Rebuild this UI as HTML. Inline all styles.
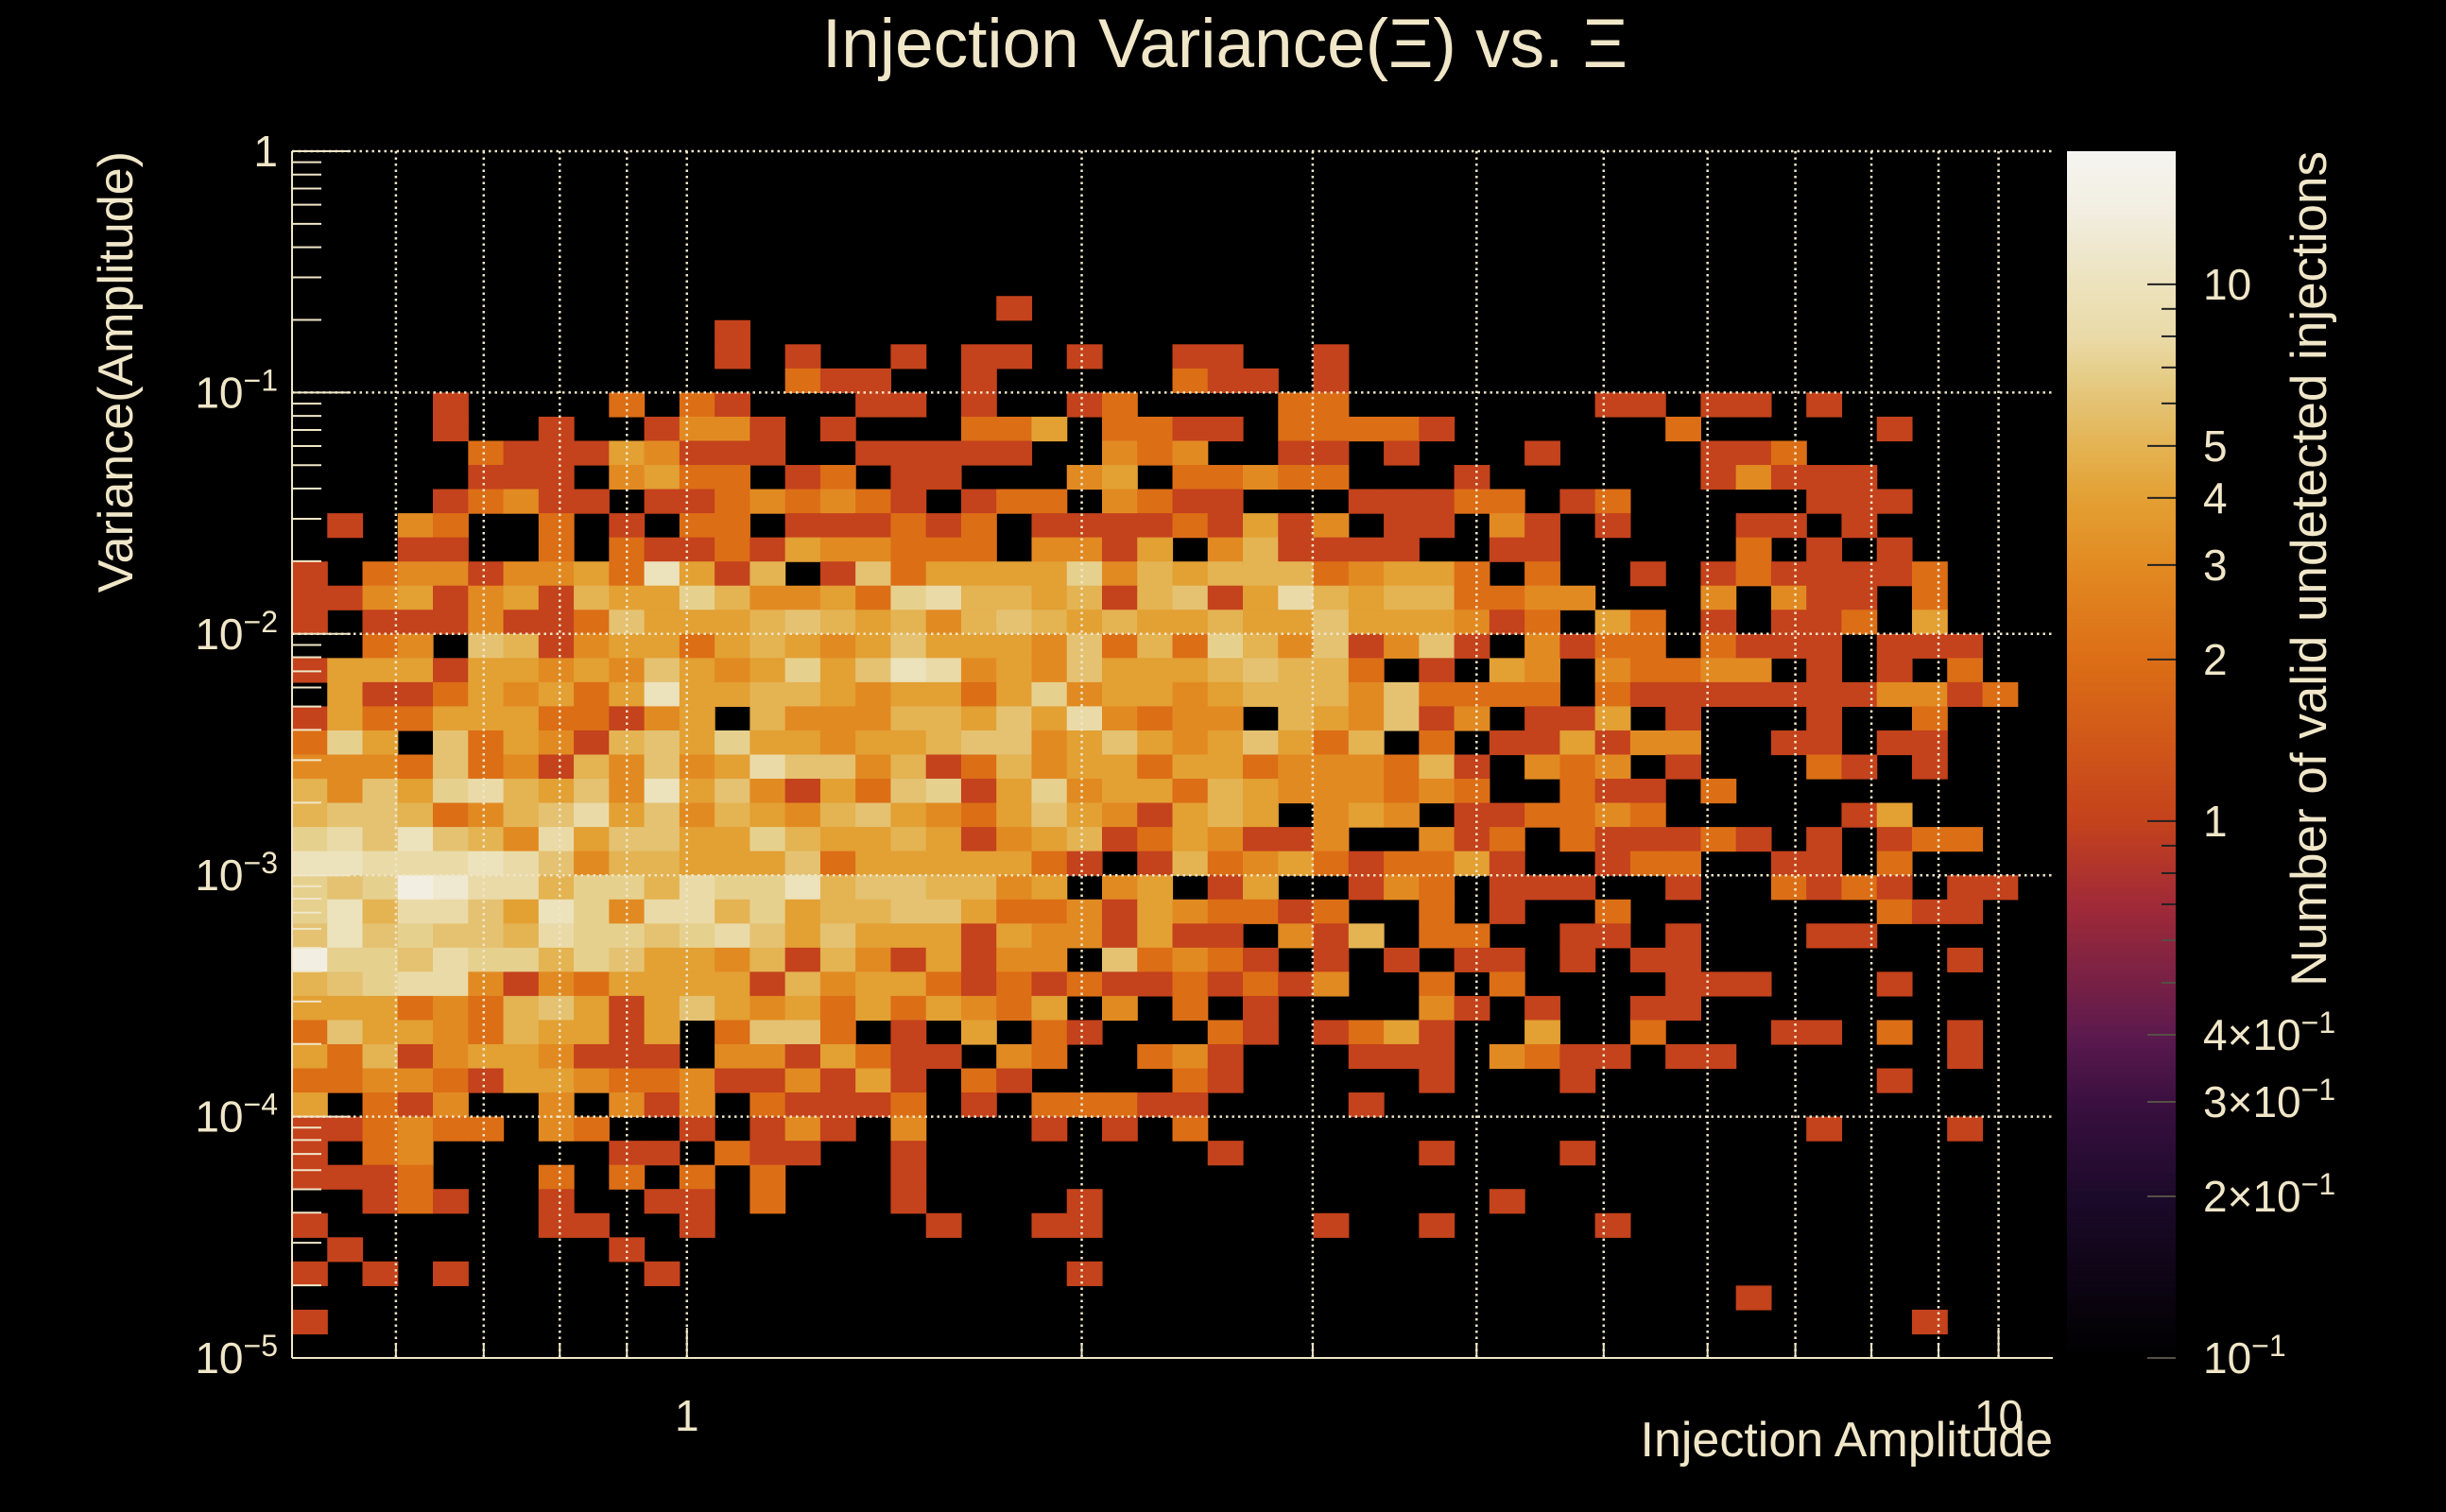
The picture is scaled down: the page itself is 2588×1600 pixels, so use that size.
<!DOCTYPE html>
<html><head><meta charset="utf-8"><title>Injection Variance vs Xi</title>
<style>
html,body{margin:0;padding:0;background:#000;}
svg{display:block;}
text{font-family:"Liberation Sans",sans-serif;fill:#f0e6c8;}
</style></head>
<body>
<svg id="chart" width="2588" height="1600" viewBox="0 0 2588 1600" xmlns="http://www.w3.org/2000/svg">
<rect x="0" y="0" width="2588" height="1600" fill="#000"/>
<text x="1296" y="71" font-size="73" text-anchor="middle">Injection Variance(Ξ) vs. Ξ</text>
<g id="cells"></g>
<g id="grid"></g>
<g id="axes"></g>
<g id="cbar"></g>
<text x="2172" y="1541" font-size="52" text-anchor="end">Injection Amplitude</text>
<text transform="translate(140,160) rotate(-90)" font-size="52" text-anchor="end">Variance(Amplitude)</text>
<text transform="translate(2461,160) rotate(-90)" font-size="53" text-anchor="end">Number of valid undetected injections</text>
</svg>
<script>
// ---- data ----
const xRange = [0.5, 11];
const yRange = [1e-5, 1];
const zRange = [0.1, 17.7];
const nX = 50;
const nY = 50;
const xTickValues = [1, 10];
const xTickLabels = ["1", "10"];
const yTickExps = [0, -1, -2, -3, -4, -5];
const zTickValues = [0.1, 0.2, 0.3, 0.4, 1, 2, 3, 4, 5, 10];
const zTickLabels = ["10^-1", "2×10^-1", "3×10^-1", "4×10^-1", "1", "2", "3", "4", "5", "10"];
// counts[row][col], row 0 = top (largest variance), col 0 = smallest amplitude
const counts = [
[0,0,0,0,0,0,0,0,0,0, 0,0,0,0,0,0,0,0,0,0, 0,0,0,0,0,0,0,0,0,0, 0,0,0,0,0,0,0,0,0,0, 0,0,0,0,0,0,0,0,0,0],
[0,0,0,0,0,0,0,0,0,0, 0,0,0,0,0,0,0,0,0,0, 0,0,0,0,0,0,0,0,0,0, 0,0,0,0,0,0,0,0,0,0, 0,0,0,0,0,0,0,0,0,0],
[0,0,0,0,0,0,0,0,0,0, 0,0,0,0,0,0,0,0,0,0, 0,0,0,0,0,0,0,0,0,0, 0,0,0,0,0,0,0,0,0,0, 0,0,0,0,0,0,0,0,0,0],
[0,0,0,0,0,0,0,0,0,0, 0,0,0,0,0,0,0,0,0,0, 0,0,0,0,0,0,0,0,0,0, 0,0,0,0,0,0,0,0,0,0, 0,0,0,0,0,0,0,0,0,0],
[0,0,0,0,0,0,0,0,0,0, 0,0,0,0,0,0,0,0,0,0, 0,0,0,0,0,0,0,0,0,0, 0,0,0,0,0,0,0,0,0,0, 0,0,0,0,0,0,0,0,0,0],
[0,0,0,0,0,0,0,0,0,0, 0,0,0,0,0,0,0,0,0,0, 0,0,0,0,0,0,0,0,0,0, 0,0,0,0,0,0,0,0,0,0, 0,0,0,0,0,0,0,0,0,0],
[0,0,0,0,0,0,0,0,0,0, 0,0,0,0,0,0,0,0,0,0, 1,0,0,0,0,0,0,0,0,0, 0,0,0,0,0,0,0,0,0,0, 0,0,0,0,0,0,0,0,0,0],
[0,0,0,0,0,0,0,0,0,0, 0,0,1,0,0,0,0,0,0,0, 0,0,0,0,0,0,0,0,0,0, 0,0,0,0,0,0,0,0,0,0, 0,0,0,0,0,0,0,0,0,0],
[0,0,0,0,0,0,0,0,0,0, 0,0,1,0,1,0,0,1,0,1, 1,0,1,0,0,1,1,0,0,1, 0,0,0,0,0,0,0,0,0,0, 0,0,0,0,0,0,0,0,0,0],
[0,0,0,0,0,0,0,0,0,0, 0,0,0,0,2,1,1,0,0,1, 0,0,0,0,0,2,1,1,0,1, 0,0,0,0,0,0,0,0,0,0, 0,0,0,0,0,0,0,0,0,0],
[0,0,0,0,1,0,0,0,0,2, 0,2,1,0,0,0,1,1,0,1, 0,0,1,2,0,0,0,0,2,2, 0,0,0,0,0,0,0,1,1,0, 1,1,0,1,0,0,0,0,0,0],
[0,0,0,0,1,0,0,1,0,0, 1,3,3,1,0,1,0,0,0,2, 2,4,0,2,2,1,1,0,2,2, 2,2,1,0,0,0,0,0,0,2, 0,0,0,0,0,1,0,0,0,0],
[0,0,0,0,0,2,1,1,1,4, 3,1,1,1,0,0,1,1,1,1, 1,0,0,3,2,3,0,0,1,1, 0,1,0,0,0,1,0,0,0,0, 1,1,2,0,0,0,0,0,0,0],
[0,0,0,0,0,1,1,1,0,3, 4,2,2,0,1,2,0,1,1,0, 0,0,3,4,0,2,2,3,2,2, 0,0,0,1,0,0,0,0,0,0, 1,3,1,1,1,0,0,0,0,0],
[0,0,0,0,1,2,3,1,1,0, 1,1,2,3,2,3,2,1,0,1, 2,2,0,3,2,1,1,0,0,0, 1,1,1,2,2,0,1,2,0,0, 0,0,0,1,1,1,0,0,0,0],
[0,1,0,3,2,0,0,2,0,1, 0,2,2,0,1,1,1,2,1,2, 0,1,1,1,1,2,1,4,1,3, 0,1,1,0,3,1,0,1,0,0, 0,1,1,0,1,0,0,0,0,0],
[0,0,0,1,1,0,0,2,0,2, 1,1,2,1,4,3,3,2,2,2, 0,3,3,1,4,0,3,5,1,1, 1,1,0,0,1,1,0,0,0,0, 0,2,0,1,0,1,0,0,0,0],
[1,0,2,3,3,1,3,3,4,2,10,4,1,5,0,1,6, 2,4,4,4,4,7,3,5,4,5,5,5,2,3,4,4,2, 0,2,0,0,1,0,1,2,1,1,1,1,2,0,0,0],
[1,1,3,4,1,3,4,1,5,4,4,7,5,3,3,4,2, 7,8,5,5,4,5,1,5,6,1,4,8,5,4,5,5,2, 2,3,3,0,0,0,3,0,3,1,1,0,2,0,0,0],
[1,0,1,1,1,3,1,1,2,6,4,4,4,5,6,5,4, 5,3,5,6,5,4,5,4,4,5,4,4,6,4,4,4,3, 1,2,0,4,2,0,1,0,1,1,2,0,4,0,0,0],
[0,0,2,3,0,6,5,1,3,4,4,2,4,5,4,3,4, 6,4,4,4,3,6,2,5,2,7,5,3,6,1,3,6,1, 0,3,1,2,2,0,2,1,1,1,0,1,1,1,0,0],
[1,4,4,4,1,4,4,3,4,3,6,4,3,4,7,4,6, 10,8,3,4,3,6,4,4,4,5,6,5,5,2,0,1,0, 4,3,0,3,2,2,3,3,0,1,0,1,0,2,0,0],
[0,4,1,1,2,4,3,4,2,4,10,4,4,5,5,4,3, 4,4,2,4,7,3,4,4,3,4,5,5,5,3,6,2,2, 2,2,0,2,1,1,1,1,1,1,1,3,3,1,2,0],
[1,4,2,2,4,4,4,2,2,1,3,4,0,5,3,3,3, 5,5,4,6,4,8,3,2,3,3,0,5,4,3,6,1,3, 0,1,1,4,0,1,0,0,0,1,0,0,2,0,0,0],
[2,7,4,0,6,2,4,3,1,5,6,4,7,4,4,3,4, 4,5,6,6,3,4,6,4,3,4,6,4,2,5,0,2,0, 1,1,4,1,3,3,0,0,1,1,0,1,1,0,0,0],
[3,3,3,2,6,2,3,1,5,3,6,3,4,8,6,6,3, 5,1,2,5,3,4,4,2,4,4,2,3,3,3,2,5,1, 0,3,2,3,0,1,0,0,0,2,1,0,1,0,0,0],
[5,3,6,4,7,8,5,4,6,3,10,4,6,3,1,4,2, 6,7,1,4,7,3,4,4,2,5,4,3,3,3,2,3,2, 0,0,2,1,1,0,2,0,0,0,0,0,0,0,0,0],
[5,6,6,5,2,3,5,6,8,4,6,3,5,4,3,5,6, 4,3,2,4,6,4,3,1,4,5,4,0,3,4,3,0,1, 1,2,2,3,2,0,0,0,0,0,1,4,0,0,0,0],
[7,8,6,10,6,5,3,8,4,6,6,4,4,7,5,4,4, 5,4,1,3,4,5,1,2,4,3,1,1,3,0,0,3,1, 2,0,2,1,1,1,2,1,0,1,0,1,2,2,0,0],
[10,10,8,8,8,10,8,6,3,5,5,4,4,4,6,2,4, 4,4,4,4,2,1,0,1,5,2,3,4,2,1,2,2,4, 1,0,0,1,2,2,0,0,1,1,0,2,0,0,0,0],
[7,6,7,14,12,8,8,5,7,7,5,8,7,7,10,5,6, 6,5,5,3,4,0,3,4,0,1,4,0,0,1,3,2,0, 1,1,1,0,0,1,0,0,2,1,2,1,0,1,1,0],
[7,10,5,8,8,6,4,10,7,3,8,8,5,7,4,5,5, 6,6,4,2,2,3,1,4,3,2,2,1,2,0,0,2,0, 1,0,0,2,0,0,0,0,0,0,0,2,1,1,0,0],
[6,10,6,7,6,6,5,8,7,7,6,7,8,6,4,6,4, 4,4,1,4,3,3,1,4,1,1,0,3,1,5,0,2,2, 0,0,1,1,0,1,0,0,0,1,1,0,0,0,0,0],
[14,7,7,6,8,7,7,5,7,6,4,4,3,5,1,5,3, 1,4,1,3,3,0,6,2,3,2,1,0,1,0,1,0,1, 1,0,1,0,1,1,0,0,0,0,0,0,0,1,0,0],
[5,6,7,8,8,3,1,3,2,4,4,4,4,1,5,3,4, 4,2,1,2,1,2,1,1,2,1,2,1,3,0,0,2,0, 2,0,0,0,0,1,1,1,0,0,0,1,0,0,0,0],
[4,4,4,2,3,2,5,6,4,1,4,6,4,3,4,2,4, 2,4,3,2,4,0,3,0,2,0,1,0,0,0,0,3,1, 0,1,0,0,1,1,0,0,0,0,0,0,0,0,0,0],
[2,6,4,4,3,2,5,4,4,1,4,0,2,6,6,2,0, 1,0,4,0,2,1,0,0,0,2,1,0,1,2,4,1,0, 0,4,0,0,2,0,0,0,1,1,0,2,0,1,0,0],
[4,2,5,1,3,4,4,3,1,1,1,0,3,3,1,4,2, 1,1,0,3,2,0,0,2,3,1,0,0,0,1,1,1,0, 3,2,1,1,0,1,1,0,0,0,0,0,0,1,0,0],
[2,2,3,3,2,1,4,4,3,2,2,3,1,1,3,1,4, 1,0,2,1,0,0,0,0,2,1,0,0,0,0,0,1,0, 0,0,1,0,0,0,0,0,0,0,0,1,0,0,0,0],
[4,0,2,1,3,0,0,3,0,3,1,3,0,2,1,1,1, 2,0,1,0,2,2,2,1,1,0,0,0,0,1,0,0,0, 0,0,0,0,0,0,0,0,0,0,0,0,0,0,0,0],
[1,1,2,3,2,2,0,3,2,0,0,1,0,1,3,1,0, 3,0,0,0,1,0,1,0,2,0,0,0,0,0,0,0,0, 0,0,0,0,0,0,0,0,0,1,0,0,0,1,0,0],
[1,0,2,3,0,0,0,0,0,1,1,0,2,1,1,0,0, 1,0,0,0,0,0,0,0,0,1,0,0,0,0,0,1,0, 0,0,1,0,0,0,0,0,0,0,0,0,0,0,0,0],
[1,1,1,2,0,0,0,2,0,2,0,2,0,2,0,0,0, 1,0,0,0,0,0,0,0,0,0,0,0,0,0,0,0,0, 0,0,0,0,0,0,0,0,0,0,0,0,0,0,0,0],
[0,0,1,2,1,0,0,1,0,0,1,1,0,2,0,0,0, 1,0,0,0,0,1,0,0,0,0,0,0,0,0,0,0,0, 1,0,0,0,0,0,0,0,0,0,0,0,0,0,0,0],
[1,0,0,0,0,0,0,1,1,0,0,1,0,0,0,0,0, 0,1,0,0,1,1,0,0,0,0,0,0,1,0,0,1,0, 0,0,0,1,0,0,0,0,0,0,0,0,0,0,0,0],
[0,1,0,0,0,0,0,0,0,1,0,0,0,0,0,0,0, 0,0,0,0,0,0,0,0,0,0,0,0,0,0,0,0,0, 0,0,0,0,0,0,0,0,0,0,0,0,0,0,0,0],
[1,0,1,0,1,0,0,0,0,0,1,0,0,0,0,0,0, 0,0,0,0,0,1,0,0,0,0,0,0,0,0,0,0,0, 0,0,0,0,0,0,0,0,0,0,0,0,0,0,0,0],
[0,0,0,0,0,0,0,0,0,0,0,0,0,0,0,0,0, 0,0,0,0,0,0,0,0,0,0,0,0,0,0,0,0,0, 0,0,0,0,0,0,0,1,0,0,0,0,0,0,0,0],
[1,0,0,0,0,0,0,0,0,0,0,0,0,0,0,0,0, 0,0,0,0,0,0,0,0,0,0,0,0,0,0,0,0,0, 0,0,0,0,0,0,0,0,0,0,0,0,1,0,0,0],
[0,0,0,0,0,0,0,0,0,0,0,0,0,0,0,0,0, 0,0,0,0,0,0,0,0,0,0,0,0,0,0,0,0,0, 0,0,0,0,0,0,0,0,0,0,0,0,0,0,0,0]
];

// ---- layout & scales ----
const NS = "http://www.w3.org/2000/svg";
const plot = {l: 309, r: 2172, t: 160, b: 1437};
const cb = {l: 2187, r: 2302, t: 160, b: 1437};
const L = Math.log10;
function xScale(v){ return plot.l + (L(v)-L(xRange[0]))/(L(xRange[1])-L(xRange[0]))*(plot.r-plot.l); }
function yScale(v){ return plot.b - (L(v)-L(yRange[0]))/(L(yRange[1])-L(yRange[0]))*(plot.b-plot.t); }
function zScale(v){ return cb.b - (L(v)-L(zRange[0]))/(L(zRange[1])-L(zRange[0]))*(cb.b-cb.t); }
function xEdge(i){ return Math.pow(10, L(xRange[0]) + i*(L(xRange[1])-L(xRange[0]))/nX); }
function yEdge(r){ return Math.pow(10, L(yRange[1]) - r*(L(yRange[1])-L(yRange[0]))/nY); }

const stopVals = [0.1, 0.2, 0.3, 0.4, 0.7, 1, 2, 3, 4, 5, 6, 7, 8, 10, 14, 17.7];
const stopCols = ["#000000","#1c0a2a","#3a1040","#5c1a4e","#a02a38","#c4421c","#dc6e16","#e28a22","#e3a033","#e4b352","#e4c272","#e6d08e","#eadaa8","#ece2bc","#f2eee2","#f6f4f0"];
function hex(h){ return [parseInt(h.substr(1,2),16),parseInt(h.substr(3,2),16),parseInt(h.substr(5,2),16)]; }
function color(v){
  if (v <= stopVals[0]) return stopCols[0];
  for (let i=1;i<stopVals.length;i++){
    if (v <= stopVals[i]){
      const t = (L(v)-L(stopVals[i-1]))/(L(stopVals[i])-L(stopVals[i-1]));
      const a = hex(stopCols[i-1]), b = hex(stopCols[i]);
      return "rgb("+a.map((x,k)=>Math.round(x+(b[k]-x)*t)).join(",")+")";
    }
  }
  return stopCols[stopCols.length-1];
}
function mk(tag, attrs, parent){
  const e = document.createElementNS(NS, tag);
  for (const k in attrs) e.setAttribute(k, attrs[k]);
  parent.appendChild(e);
  return e;
}
const CREAM = "#f0e6c8";

// ---- cells ----
const gCells = document.getElementById("cells");
for (let r=0;r<counts.length;r++){
  for (let c=0;c<counts[r].length;c++){
    const v = counts[r][c];
    if (!v) continue;
    const x0 = xScale(xEdge(c)), x1 = xScale(xEdge(c+1));
    const y0 = yScale(yEdge(r)), y1 = yScale(yEdge(r+1));
    const el = mk("rect", {x:x0.toFixed(2), y:y0.toFixed(2), width:(x1-x0+0.6).toFixed(2), height:(y1-y0+0.6).toFixed(2), fill:color(v)}, gCells);
    
    
  }
}

// ---- grid ----
const gGrid = document.getElementById("grid");
const xGridVals = [];
for (let d=-1; d<=1; d++) for (let m=1; m<=9; m++){ const v=m*Math.pow(10,d); if (v>xRange[0] && v<xRange[1]) xGridVals.push(v); }
xGridVals.forEach(v=>{
  const x = xScale(v);
  const el = mk("line", {x1:x, x2:x, y1:plot.t, y2:plot.b, stroke:CREAM, "stroke-width":2.5, "stroke-dasharray":"2.5,4"}, gGrid);
  
  
});
yTickExps.forEach(e=>{
  if (e === yTickExps[yTickExps.length-1]) return;
  const y = yScale(Math.pow(10,e));
  const el = mk("line", {x1:plot.l, x2:plot.r, y1:y, y2:y, stroke:CREAM, "stroke-width":2.5, "stroke-dasharray":"2.5,4"}, gGrid);
  
  
});

// ---- axes ----
const gAx = document.getElementById("axes");
let ax = mk("line", {x1:plot.l, x2:plot.l, y1:plot.t, y2:plot.b, stroke:CREAM, "stroke-width":2}, gAx);


ax = mk("line", {x1:plot.l, x2:plot.r, y1:plot.b, y2:plot.b, stroke:CREAM, "stroke-width":2}, gAx);



// y ticks
for (let e=-5; e<=0; e++){
  for (let m=1; m<=9; m++){
    const v = m*Math.pow(10,e);
    if (v>yRange[1]) break;
    const y = yScale(v);
    const len = m===1 ? 62 : 31;
    const t = mk("line", {x1:plot.l, x2:plot.l+len, y1:y, y2:y, stroke:CREAM, "stroke-width":2}, gAx);
    
    
  }
}
yTickExps.forEach(e=>{
  const y = yScale(Math.pow(10,e));
  const t = mk("text", {x:294, y:y+16, "font-size":46, "text-anchor":"end"}, gAx);
  
  
  if (e === 0){ t.textContent = "1"; }
  else {
    const a = document.createElementNS(NS,"tspan"); a.textContent = "10"; t.appendChild(a);
    const b = document.createElementNS(NS,"tspan"); b.setAttribute("dy","-18"); b.setAttribute("font-size","32"); b.textContent = "−"+(-e); t.appendChild(b);
  }
});
// x ticks
xGridVals.forEach(v=>{
  const x = xScale(v);
  const major = Math.abs(L(v)-Math.round(L(v)))<1e-9;
  const t = mk("line", {x1:x, x2:x, y1:plot.b, y2:plot.b-(major?32:16), stroke:CREAM, "stroke-width":2}, gAx);
  
  
});
xTickValues.forEach((v,i)=>{
  const t = mk("text", {x:xScale(v), y:1514, "font-size":46, "text-anchor":"middle"}, gAx);
  t.textContent = xTickLabels[i];
  
  
});

// ---- color bar ----
const gCb = document.getElementById("cbar");
const nSteps = 400;
for (let i=0;i<nSteps;i++){
  const lv0 = L(zRange[0]) + i*(L(zRange[1])-L(zRange[0]))/nSteps;
  const lv1 = L(zRange[0]) + (i+1)*(L(zRange[1])-L(zRange[0]))/nSteps;
  const y1 = zScale(Math.pow(10,lv0)), y0 = zScale(Math.pow(10,lv1));
  const el = mk("rect", {x:cb.l, y:y0.toFixed(2), width:cb.r-cb.l, height:(y1-y0+0.8).toFixed(2), fill:color(Math.pow(10,(lv0+lv1)/2))}, gCb);
  
  
}
for (let e=-1; e<=1; e++){
  for (let m=1; m<=9; m++){
    const v = m*Math.pow(10,e);
    if (v>zRange[1]) break;
    const y = zScale(v);
    const labelled = zTickValues.some(z=>Math.abs(z-v)<1e-9);
    const len = labelled ? 30 : 15;
    const t = mk("line", {x1:cb.r, x2:cb.r-len, y1:y, y2:y, stroke: v < 0.7 ? "#555045" : "#222", "stroke-width":2}, gCb);
    
    
  }
}
zTickValues.forEach((v,i)=>{
  const y = zScale(v);
  const t = mk("text", {x:2331, y:y+16, "font-size":46, "text-anchor":"start"}, gCb);
  
  
  const lab = zTickLabels[i];
  const parts = lab.split("^");
  const a = document.createElementNS(NS,"tspan"); a.textContent = parts[0]; t.appendChild(a);
  if (parts.length>1){
    const b = document.createElementNS(NS,"tspan"); b.setAttribute("dy","-18"); b.setAttribute("font-size","32"); b.textContent = parts[1].replace("-","−"); t.appendChild(b);
  }
});
</script>
</body></html>
